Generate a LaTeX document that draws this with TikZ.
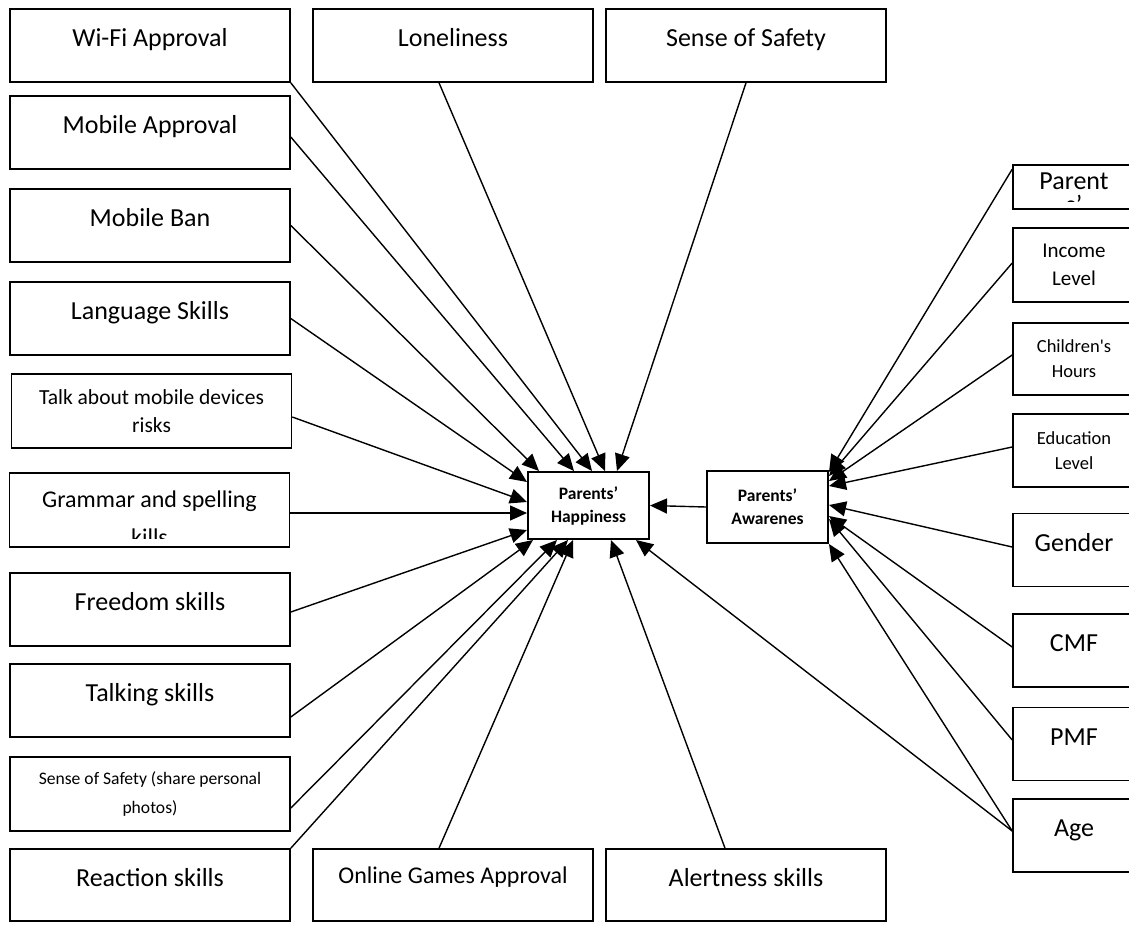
\documentclass[tikz,border=0pt]{standalone}
\usepackage{fontspec}
\setmainfont{Carlito}
\usetikzlibrary{arrows.meta}

\tikzset{
  box/.style={draw, line width=1.6pt, inner sep=0pt, align=center},
  lbox/.style={box, minimum width=280pt, minimum height=73pt},
  rbox/.style={box, minimum width=122pt, minimum height=73pt},
  btxt/.style={font=\fontsize{26}{31}\selectfont, text height=18pt, text depth=16pt},
  hub/.style={box, line width=2pt, minimum width=121pt, font=\bfseries\fontsize{17.5}{23}\selectfont},
  link/.style={line width=1.4pt, -{Triangle[length=17pt,width=15pt]}}
}

\begin{document}
\begin{tikzpicture}[x=1pt,y=-1pt]
	\fill[white] (0,0) rectangle (1129,924);
	\useasboundingbox (0,0) rectangle (1129,924);

	% top row and left column
	\node[lbox,btxt] (wifi) at (150,45.5) {Wi-Fi Approval};
	\node[lbox,btxt] (lonely) at (453,45.5) {Loneliness};
	\node[lbox,btxt] (safety) at (746,45.5) {Sense of Safety};
	\node[lbox,btxt] (mobapp) at (150,132.5) {Mobile Approval};
	\node[lbox,btxt] (mobban) at (150,225.5) {Mobile Ban};
	\node[lbox,btxt] (lang) at (150,318.5) {Language Skills};
	\node[lbox, minimum height=74pt, font=\fontsize{21.5}{28}\selectfont] (talk) at (151.5,411) {Talk about mobile devices\\risks};
	\node[lbox, minimum height=74pt] (gram) at (149.5,510) {};
	\begin{scope}
		\clip ([yshift=9]gram.south west) rectangle (gram.north east);
		\node[font=\fontsize{24}{38}\selectfont, align=center] (gramtext) at (149.5,518) {Grammar and spelling\\kills};
	\end{scope}
	\node[lbox,btxt] (free) at (150,609.5) {Freedom skills};
	\node[lbox,btxt] (talking) at (150,700.5) {Talking skills};
	\node[lbox, minimum height=74pt, font=\fontsize{17.6}{29}\selectfont] (photos) at (150,794) {Sense of Safety (share personal\\photos)};

	% bottom row
	\node[lbox,btxt, minimum height=72pt] (react) at (150,885) {Reaction skills};
	\node[lbox, minimum height=72pt, font=\fontsize{24}{29}\selectfont, text height=17pt, text depth=20pt] (games) at (453,885) {Online Games Approval};
	\node[lbox,btxt, minimum height=72pt] (alert) at (746,885) {Alertness skills};

	% right column
	\node[rbox, minimum height=44pt] (parent) at (1074,187) {};
	\begin{scope}
		\clip (parent.north west) rectangle ([yshift=8]parent.south east);
		\node[font=\fontsize{26}{24}\selectfont, align=center] (parenttext) at (1074,193) {Parent\\s'};
	\end{scope}
	\node[rbox, minimum height=74pt, font=\fontsize{21}{28}\selectfont] (income) at (1074,265) {Income\\Level};
	\node[rbox, minimum height=72pt, font=\fontsize{18.5}{25}\selectfont] (child) at (1074,359) {Children\textquotesingle s\\Hours};
	\node[rbox, font=\fontsize{18.5}{25}\selectfont] (edu) at (1074,450.5) {Education\\Level};
	\node[rbox,btxt] (gender) at (1074,550) {Gender};
	\node[rbox,btxt] (cmf) at (1074,650.5) {CMF};
	\node[rbox,btxt] (pmf) at (1074,744) {PMF};
	\node[rbox,btxt] (age) at (1074,835.5) {Age};

	% centre
	\node[hub, minimum height=67pt] (happy) at (588.5,505.5) {Parents'\\Happiness};
	\node[hub, minimum height=72pt] (aware) at (767.5,507) {Parents'\\Awarenes};

	% into happiness
	\draw[link] (wifi.south east) -- ([xshift=65]happy.north west);
	\draw[link] ([yshift=-4.5]mobapp.east) -- ([xshift=47]happy.north west);
	\draw[link] (mobban.east) -- ([xshift=12]happy.north west);
	\draw[link] (lang.east) -- ([yshift=-11]happy.north west);
	\draw[link] ([yshift=-6]talk.east) -- ([yshift=3.5]happy.west);
	\draw[link] ([yshift=-3]gram.east) -- ([yshift=-7.5]happy.west);
	\draw[link] ([yshift=-2.5]free.east) -- ([yshift=10]happy.south west);
	\draw[link] ([yshift=-16.5]talking.east) -- ([xshift=6]happy.south west);
	\draw[link] ([yshift=-14]photos.east) -- ([xshift=30]happy.south west);
	\draw[link] (react.north east) -- ([xshift=41]happy.south west);
	\draw[link] ([xshift=-14]games.north) -- ([xshift=46]happy.south west);
	\draw[link] ([xshift=-21]alert.north) -- ([xshift=-39]happy.south east);
	\draw[link] ([yshift=4.5]age.west) -- ([xshift=-14]happy.south east);
	\draw[link] ([xshift=-14]lonely.south) -- ([xshift=78]happy.north west);
	\draw[link] (safety.south) -- ([xshift=90]happy.north west);
	\draw[link] (aware.west) -- (happy.east);

	% into awareness
	\draw[link] ([yshift=-5]parent.north west) -- ([yshift=-2]aware.north east);
	\draw[link] ([yshift=2]income.west) -- ([yshift=-6]aware.north east);
	\draw[link] ([yshift=4]child.west) -- ([yshift=-11]aware.north east);
	\draw[link] ([yshift=3.5]edu.west) -- ([yshift=-16]aware.north east);
	\draw[link] ([yshift=3]gender.west) -- ([yshift=2]aware.east);
	\draw[link] ([yshift=3.5]cmf.west) -- ([yshift=-9]aware.east);
	\draw[link] ([yshift=4]pmf.west) -- ([yshift=-12]aware.east);
	\draw[link] ([yshift=4.5]age.west) -- (aware.south east);
\end{tikzpicture}
\end{document}
